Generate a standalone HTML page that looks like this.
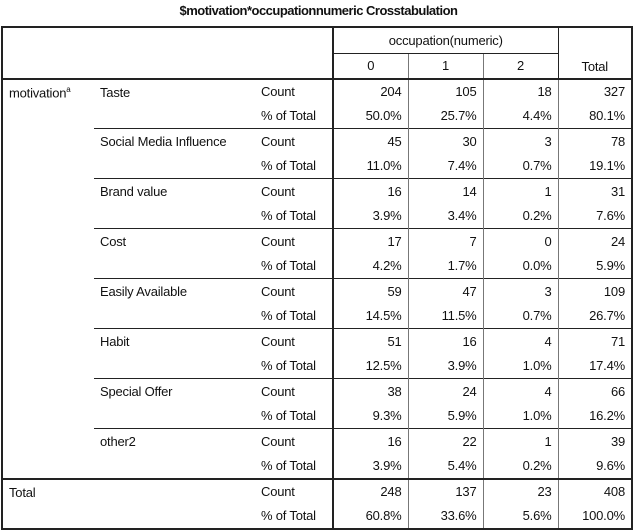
<!DOCTYPE html>
<html><head><meta charset="utf-8"><style>
body{margin:0;width:637px;height:531px;background:#fff;font-family:"Liberation Sans",Arial,sans-serif;color:#111;overflow:hidden;position:relative}
#title{position:absolute;left:0;width:637px;top:3px;text-align:center;font-weight:bold;font-size:13px;letter-spacing:-0.5px}
table{position:absolute;left:1px;top:26px;border-collapse:collapse;table-layout:fixed;font-size:13px;border:2px solid #222;letter-spacing:-0.2px}
td{height:24px;padding:0 6px;border:0;white-space:nowrap;overflow:hidden}
.n{text-align:right;border-left:1px solid #777}
.c3{border-right:2px solid #222}
.hdr td{text-align:center}
</style></head><body>
<div id="title">$motivation*occupationnumeric Crosstabulation</div>
<table>
<colgroup><col style="width:92px"><col style="width:161px"><col style="width:78px"><col style="width:75px"><col style="width:75px"><col style="width:75px"><col style="width:74px"></colgroup>
<tbody id="tb">
<tr class="hdr" style="height:26px"><td colspan="3" rowspan="2" class="c3" style="border-bottom:2px solid #222"></td><td colspan="3" style="border-bottom:1px solid #222;border-right:1px solid #222">occupation(numeric)</td><td rowspan="2" style="border-bottom:2px solid #222;vertical-align:bottom;padding-bottom:4px">Total</td></tr>
<tr class="hdr" style="height:25px"><td style="border-bottom:2px solid #222;border-right:1px solid #777">0</td><td style="border-bottom:2px solid #222;border-right:1px solid #777">1</td><td style="border-bottom:2px solid #222;border-right:1px solid #222">2</td></tr>
</tbody></table>
<script>
const labels=["Taste","Social Media Influence","Brand value","Cost","Easily Available","Habit","Special Offer","other2","Total"];
const counts=[[204,105,18,327],[45,30,3,78],[16,14,1,31],[17,7,0,24],[59,47,3,109],[51,16,4,71],[38,24,4,66],[16,22,1,39],[248,137,23,408]];
const pcts=[["50.0%","25.7%","4.4%","80.1%"],["11.0%","7.4%","0.7%","19.1%"],["3.9%","3.4%","0.2%","7.6%"],["4.2%","1.7%","0.0%","5.9%"],["14.5%","11.5%","0.7%","26.7%"],["12.5%","3.9%","1.0%","17.4%"],["9.3%","5.9%","1.0%","16.2%"],["3.9%","5.4%","0.2%","9.6%"],["60.8%","33.6%","5.6%","100.0%"]];
const tb=document.getElementById('tb');
labels.forEach((lab,i)=>{
  const isTot=i===labels.length-1;
  [0,1].forEach(r=>{
    const tr=document.createElement('tr');
    tr.style.height='25px';
    let h='';
    const top=r===0?(isTot?'border-top:2px solid #222;':(i>0?'border-top:1px solid #222;':'')):'';
    if(r===0){
      if(isTot) h+=`<td colspan="2" rowspan="2" style="${top}vertical-align:top;padding-top:5px">Total</td>`;
      else{
        if(i===0) h+=`<td rowspan="16" style="vertical-align:top;padding-top:5px">motivation<sup style="font-size:8px">a</sup></td>`;
        h+=`<td rowspan="2" style="${top}vertical-align:top;padding-top:5px">${lab}</td>`;
      }
    }
    h+=`<td class="c3" style="${top}">${r===0?'Count':'% of Total'}</td>`;
    const vals=r===0?counts[i]:pcts[i];
    vals.forEach(v=>{h+=`<td class="n" style="${top}">${v}</td>`;});
    tr.innerHTML=h;
    
    
    tb.appendChild(tr);
  });
});
</script>
</body></html>
